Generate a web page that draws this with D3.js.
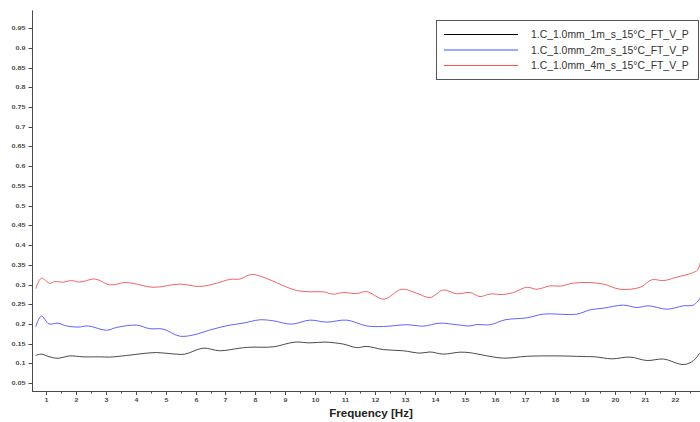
<!DOCTYPE html>
<html>
<head>
<meta charset="utf-8">
<script src="https://cdn.jsdelivr.net/npm/d3@7"></script>
<style>
  html, body { margin: 0; padding: 0; background: #fff; }
  svg { display: block; }
</style>
</head>
<body>
<svg id="chart" width="700" height="422"></svg>
<script>
// Series: frequency (Hz) and measured value per trace
const seriesNames = [
  "1.C_1.0mm_1m_s_15°C_FT_V_P",
  "1.C_1.0mm_2m_s_15°C_FT_V_P",
  "1.C_1.0mm_4m_s_15°C_FT_V_P"
];
const seriesColors = ["#2a2a2a", "#4646ff", "#ee4a4a"];
const legendColors = ["#000000", "#3355ff", "#ff5050"];

const freq1m = [0.668, 0.858, 1.112, 1.412, 1.803, 2.247, 2.805, 3.139, 3.696, 4.250, 4.698, 5.252, 5.643, 6.254, 6.811, 7.479, 7.813, 8.591, 9.316, 9.816, 10.317, 10.928, 11.376, 11.710, 12.264, 12.932, 13.489, 13.823, 14.267, 14.825, 15.159, 15.492, 16.270, 17.052, 18.053, 18.941, 19.332, 19.890, 20.501, 21.058, 21.613, 22.280, 22.614, 22.815];
const vals1m = [0.120, 0.1235, 0.117, 0.113, 0.119, 0.1166, 0.1166, 0.116, 0.120, 0.125, 0.1275, 0.124, 0.1235, 0.1386, 0.132, 0.1386, 0.141, 0.142, 0.154, 0.152, 0.154, 0.149, 0.140, 0.143, 0.135, 0.132, 0.126, 0.129, 0.1235, 0.1285, 0.127, 0.1225, 0.1133, 0.118, 0.119, 0.1174, 0.1166, 0.1116, 0.116, 0.1073, 0.111, 0.097, 0.107, 0.126];

const freq2m = [0.668, 0.858, 1.112, 1.412, 1.693, 2.080, 2.414, 3.028, 3.362, 4.030, 4.474, 4.918, 5.476, 5.920, 6.588, 7.145, 7.589, 8.147, 8.591, 9.205, 9.816, 10.374, 11.042, 11.710, 12.264, 13.045, 13.599, 14.157, 14.715, 15.159, 15.382, 15.826, 16.327, 17.052, 17.606, 18.721, 19.165, 19.609, 20.277, 20.724, 21.112, 21.726, 22.280, 22.614, 22.838];
const vals2m = [0.193, 0.220, 0.200, 0.202, 0.195, 0.192, 0.195, 0.184, 0.191, 0.197, 0.188, 0.187, 0.169, 0.172, 0.187, 0.197, 0.202, 0.2105, 0.208, 0.1995, 0.2097, 0.2046, 0.2097, 0.195, 0.1935, 0.198, 0.1945, 0.202, 0.198, 0.195, 0.1985, 0.198, 0.2105, 0.2155, 0.2249, 0.2249, 0.2358, 0.240, 0.2477, 0.2417, 0.246, 0.2375, 0.246, 0.248, 0.2655];

const freq4m = [0.668, 0.858, 1.135, 1.302, 1.579, 1.860, 2.137, 2.581, 2.748, 3.139, 3.639, 3.917, 4.584, 5.476, 6.144, 6.701, 7.145, 7.479, 7.870, 8.481, 8.925, 9.372, 9.816, 10.260, 10.594, 10.928, 11.376, 11.710, 12.287, 12.878, 13.379, 13.823, 14.267, 14.715, 15.159, 15.492, 15.826, 16.270, 16.604, 17.052, 17.386, 17.830, 18.164, 18.608, 19.165, 19.609, 20.167, 20.835, 21.225, 21.613, 22.060, 22.561, 22.748, 22.838];
const vals4m = [0.289, 0.316, 0.303, 0.3075, 0.306, 0.310, 0.306, 0.314, 0.312, 0.299, 0.305, 0.303, 0.293, 0.301, 0.295, 0.303, 0.313, 0.314, 0.3255, 0.312, 0.297, 0.285, 0.2815, 0.2815, 0.2755, 0.2797, 0.277, 0.282, 0.263, 0.288, 0.278, 0.267, 0.286, 0.2764, 0.2797, 0.2695, 0.276, 0.2746, 0.2797, 0.293, 0.288, 0.2966, 0.2958, 0.3035, 0.305, 0.301, 0.288, 0.293, 0.312, 0.310, 0.3187, 0.329, 0.337, 0.356];

const xTickValues = d3.range(1, 23);
const xMinorTickValues = d3.range(0.5, 23, 1);
const yTickValues = d3.range(1, 20).map(i => +(i * 0.05).toFixed(2));
const xAxisTitle = "Frequency [Hz]";

const svg = d3.select("#chart");
const fontFamily = "'Liberation Sans', Arial, sans-serif";

const x = d3.scaleLinear().domain([0.545, 22.83]).range([32, 700]);
const y = d3.scaleLinear().domain([0.03, 0.995]).range([391, 10.4]);

const axisColor = "#4a4a4a";
const labelColor = "#4a4a4a";

// Y axis: line, ticks pointing left, squat numeric labels
const yAxis = svg.append("g").attr("transform", "translate(32.5,0)");
yAxis.append("line")
  .attr("x1", 0).attr("x2", 0)
  .attr("y1", y.range()[1]).attr("y2", y.range()[0])
  .attr("stroke", axisColor).attr("stroke-width", 1);
yTickValues.forEach(v => {
  const py = Math.round(y(v)) + 0.5;
  yAxis.append("line")
    .attr("x1", -4).attr("x2", 0)
    .attr("y1", py).attr("y2", py)
    .attr("stroke", axisColor).attr("stroke-width", 1);
  yAxis.append("text")
    .attr("transform", `translate(-7,${py}) scale(1,0.7)`)
    .attr("text-anchor", "end")
    .attr("dy", "0.36em")
    .attr("font-family", fontFamily)
    .attr("font-size", "7.2px")
    .attr("font-weight", "bold")
    .attr("fill", labelColor)
    .text(d3.format("")(v));
});

// X axis: line, major and minor ticks pointing down
const xAxis = svg.append("g").attr("transform", "translate(0,391.5)");
xAxis.append("line")
  .attr("x1", 32).attr("x2", 700)
  .attr("y1", 0).attr("y2", 0)
  .attr("stroke", axisColor).attr("stroke-width", 1);
xMinorTickValues.forEach(f => {
  const px = Math.round(x(f)) + 0.5;
  if (px < 33 || px > 700) return;
  xAxis.append("line")
    .attr("x1", px).attr("x2", px).attr("y1", 0).attr("y2", 2)
    .attr("stroke", axisColor).attr("stroke-width", 1);
});
xTickValues.forEach(f => {
  const px = Math.round(x(f)) + 0.5;
  xAxis.append("line")
    .attr("x1", px).attr("x2", px).attr("y1", 0).attr("y2", 3.5)
    .attr("stroke", axisColor).attr("stroke-width", 1);
  xAxis.append("text")
    .attr("transform", `translate(${px},9) scale(1,0.7)`)
    .attr("text-anchor", "middle")
    .attr("dy", "0.36em")
    .attr("font-family", fontFamily)
    .attr("font-size", "7px")
    .attr("font-weight", "bold")
    .attr("fill", labelColor)
    .text(f);
});

svg.append("text")
  .attr("x", 371).attr("y", 417)
  .attr("text-anchor", "middle")
  .attr("font-family", fontFamily)
  .attr("font-size", "11.6px")
  .attr("font-weight", "bold")
  .attr("fill", "#222")
  .text(xAxisTitle);

// Traces
const seriesData = [
  freq1m.map((f, i) => [f, vals1m[i]]),
  freq2m.map((f, i) => [f, vals2m[i]]),
  freq4m.map((f, i) => [f, vals4m[i]])
];
const line = d3.line()
  .x(d => x(d[0]))
  .y(d => y(d[1]))
  .curve(d3.curveCatmullRom.alpha(0.5));

svg.append("g").selectAll("path")
  .data(seriesData)
  .join("path")
  .attr("d", line)
  .attr("fill", "none")
  .attr("stroke", (d, i) => seriesColors[i])
  .attr("stroke-width", 1)
  .attr("stroke-opacity", 0.85);

// Legend
const legend = svg.append("g");
legend.append("rect")
  .attr("x", 436.5).attr("y", 20.5)
  .attr("width", 262).attr("height", 59)
  .attr("fill", "#fff")
  .attr("stroke", "#555").attr("stroke-width", 1);
const legendRowsY = [34.5, 50, 65.5];
seriesNames.forEach((name, i) => {
  legend.append("line")
    .attr("x1", 444).attr("x2", 518)
    .attr("y1", legendRowsY[i]).attr("y2", legendRowsY[i])
    .attr("stroke", legendColors[i]).attr("stroke-width", 1);
  legend.append("text")
    .attr("x", 531).attr("y", legendRowsY[i])
    .attr("dy", "0.35em")
    .attr("font-family", fontFamily)
    .attr("font-size", "10.4px")
    .attr("fill", "#333")
    .text(name);
});
</script>
</body>
</html>
